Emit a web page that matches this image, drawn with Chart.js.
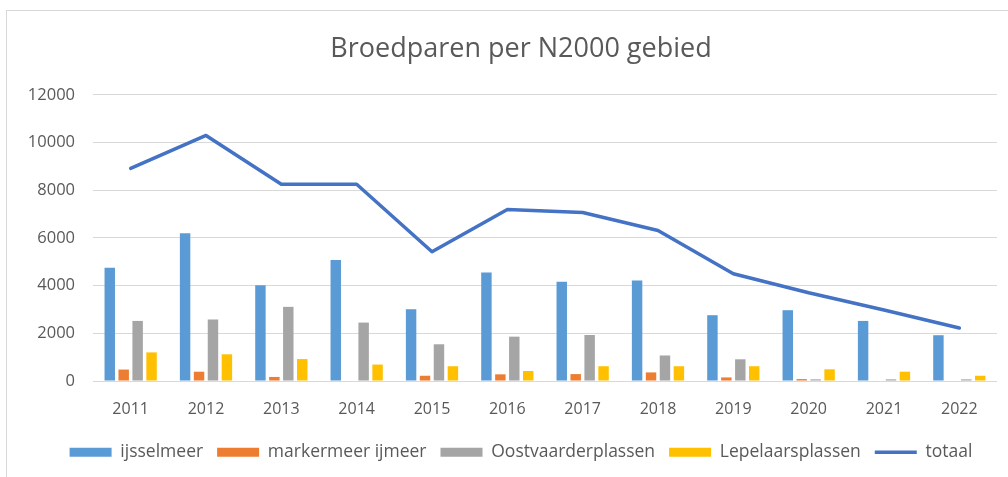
<!DOCTYPE html>
<html>
<head>
<meta charset="utf-8">
<script src="https://cdn.jsdelivr.net/npm/chart.js@4/dist/chart.umd.min.js"></script>
<style>
html,body{margin:0;padding:0;background:#fff;overflow:hidden;}
#frame{position:absolute;left:6px;top:10px;width:1028px;height:480px;border:1px solid #d9d9d9;}
#box{position:relative;width:1028px;height:460px;}
</style>
</head>
<body>
<div id="frame"><div id="box"><canvas id="chartBroed"></canvas></div></div>
<script>
const years=["2011","2012","2013","2014","2015","2016","2017","2018","2019","2020","2021","2022"];
const ijsselmeer=[4750,6200,4020,5070,3010,4550,4160,4220,2760,2970,2520,1920];
const markermeer=[480,390,170,0,220,280,290,360,150,80,0,0];
const oostvaarder=[2520,2580,3110,2450,1540,1860,1930,1070,910,70,70,70];
const lepelaar=[1200,1120,920,690,620,420,620,620,620,490,390,220];
const totaal=[8920,10300,8250,8250,5420,7190,7070,6310,4500,3700,2980,2220];
const yTicks=[0,2000,4000,6000,8000,10000,12000];

const txt="#595959";
const fontFam="'Open Sans', sans-serif";

new Chart(document.getElementById("chartBroed"),{
type:'bar',
data:{
labels:years,
datasets:[
{label:"ijsselmeer",data:ijsselmeer,backgroundColor:"#5B9BD5",order:1,pointStyle:'rect'},
{label:"markermeer ijmeer",data:markermeer,backgroundColor:"#ED7D31",order:1,pointStyle:'rect'},
{label:"Oostvaarderplassen",data:oostvaarder,backgroundColor:"#A5A5A5",order:1,pointStyle:'rect'},
{label:"Lepelaarsplassen",data:lepelaar,backgroundColor:"#FFC000",order:1,pointStyle:'rect'},
{type:'line',label:"totaal",data:totaal,borderColor:"#4472C4",backgroundColor:"#4472C4",
 borderWidth:3.5,pointRadius:0,pointHoverRadius:0,tension:0,order:0,
 pointStyle:'line',pointBorderColor:"#4472C4",pointBorderWidth:3.5,borderCapStyle:'round',borderJoinStyle:'round'}
]
},
options:{
responsive:true,
maintainAspectRatio:false,
animation:false,
categoryPercentage:0.74,
barPercentage:0.75,
layout:{padding:0},
plugins:{
title:{display:true,text:"Broedparen per N2000 gebied",color:txt,
 font:{family:fontFam,size:27,weight:'normal'},padding:{top:22.5,bottom:29}},
legend:{position:'bottom',
 labels:{color:txt,font:{family:fontFam,size:17.5},boxWidth:42,boxHeight:9,
  usePointStyle:true,pointStyleWidth:42,padding:14,
  sort:(a,b)=>a.datasetIndex-b.datasetIndex}},
tooltip:{enabled:false}
},
scales:{
x:{grid:{display:false,drawTicks:false},border:{display:false},
 ticks:{color:txt,font:{family:fontFam,size:16},padding:19,maxRotation:0},
 afterFit:(s)=>{s.height=48.5;}},
y:{min:0,max:12000,
 afterBuildTicks:(s)=>{s.ticks=yTicks.map(v=>({value:v}));},
 grid:{color:"#d9d9d9",lineWidth:1,drawTicks:false},border:{display:false},
 ticks:{color:txt,font:{family:fontFam,size:16.5},padding:18,callback:(v)=>String(v)},
 afterFit:(s)=>{s.width=86;}},
yRight:{position:'right',display:true,min:0,max:12000,
 grid:{display:false,drawTicks:false},border:{display:false},ticks:{display:false},
 afterFit:(s)=>{s.width=38;}}
}
}
});
</script>
</body>
</html>
